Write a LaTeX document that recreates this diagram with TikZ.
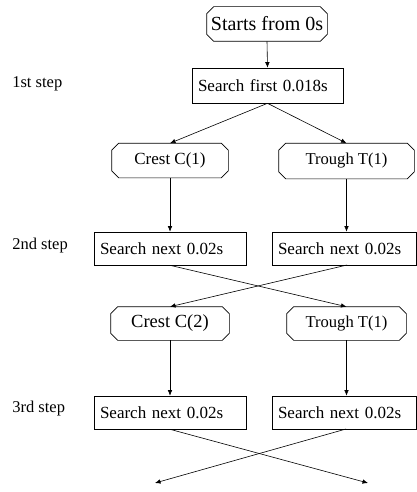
\documentclass[tikz,border=0pt]{standalone}
\usepackage{fontspec}
\setmainfont{Liberation Serif}
\usetikzlibrary{arrows.meta}
\begin{document}
\begin{tikzpicture}[x=1pt,y=-1pt,
  line width=0.6pt,
  octa/.style={rectangle,inner sep=0pt,minimum height=34pt},
  searchbox/.style={rectangle,draw,inner xsep=6pt,inner ysep=0pt,minimum height=33pt,
    align=left,font=\fontsize{17}{20}\selectfont},
  steplabel/.style={anchor=west,inner sep=0pt,font=\fontsize{16.5}{20}\selectfont},
  arr/.style={-{Latex[length=5.5pt,width=4.5pt]}}]
\useasboundingbox (0,0) rectangle (417,492);

% start node and first search
\node[octa,minimum width=120pt,font=\fontsize{20}{24}\selectfont] (start) at (267,24) {Starts from 0s};
\node[searchbox,text width=139pt,minimum height=35pt] (s1) at (267.5,85.5) {Search first 0.018s};

% first crest / trough
\node[octa,minimum width=116pt,font=\fontsize{17}{20}\selectfont] (c1) at (170,160.5) {Crest C(1)};
\node[octa,minimum width=135pt,minimum height=35pt,font=\fontsize{16.6}{20}\selectfont] (t1) at (346.5,161) {Trough T(1)};

% second step boxes
\node[searchbox,text width=140pt] (b2l) at (170,248.5) {Search next 0.02s};
\node[searchbox,text width=132pt] (b2r) at (344,248.5) {Search next 0.02s};

% second crest / trough
\node[octa,minimum width=118pt,minimum height=33pt,font=\fontsize{18.5}{22}\selectfont] (c2) at (170,323.5) {Crest C(2)};
\node[octa,minimum width=119pt,minimum height=33pt,font=\fontsize{16.6}{20}\selectfont] (t2) at (346.5,323.5) {Trough T(1)};

% third step boxes
\node[searchbox,text width=140pt] (b3l) at (170,412.5) {Search next 0.02s};
\node[searchbox,text width=132pt] (b3r) at (344,412.5) {Search next 0.02s};

% octagonal outlines with cut corners
\foreach \n in {start,c1,t1,c2,t2}
  \draw ([xshift=7pt]\n.north west) -- ([xshift=-7pt]\n.north east)
     -- ([yshift=-7pt]\n.north east) -- ([yshift=7pt]\n.south east)
     -- ([xshift=-7pt]\n.south east) -- ([xshift=7pt]\n.south west)
     -- ([yshift=7pt]\n.south west) -- ([yshift=-7pt]\n.north west) -- cycle;

% step labels
\node[steplabel] (l1) at (12,84) {1st step};
\node[steplabel] (l2) at (12,246) {2nd step};
\node[steplabel] (l3) at (12,409) {3rd step};

% open ends of the last crossing
\coordinate (endl) at (155,483);
\coordinate (endr) at (368,483);
\coordinate (b2rs) at (347,265);
\coordinate (b3rs) at (346,429);

% connectors
\draw[arr] (start.south) -- (s1.north);
\draw[arr] (s1.south) -- (c1.north);
\draw[arr] (s1.south) -- (t1.north);
\draw[arr] (c1.south) -- (c1.south |- b2l.north);
\draw[arr] (t1.south) -- (t1.south |- b2r.north);
\draw[arr] (b2l.south) -- (t2.north);
\draw[arr] (b2rs) -- (c2.north);
\draw[arr] (c2.south) -- (c2.south |- b3l.north);
\draw[arr] (t2.south) -- (t2.south |- b3r.north);
\draw[arr] (b3l.south) -- (endr);
\draw[arr] (b3rs) -- (endl);
\end{tikzpicture}
\end{document}
